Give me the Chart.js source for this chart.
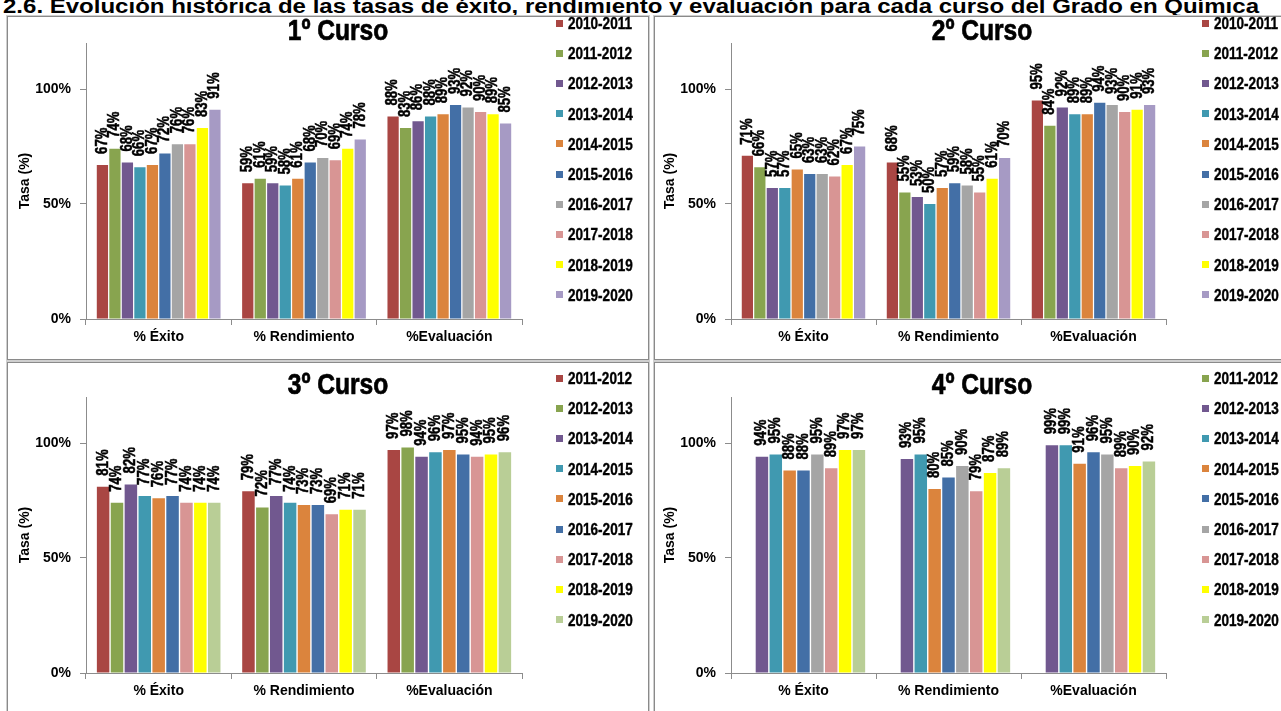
<!DOCTYPE html>
<html><head><meta charset="utf-8">
<script src="https://cdn.jsdelivr.net/npm/chart.js@4.4.1/dist/chart.umd.min.js"></script>
<style>
html,body{margin:0;padding:0;background:#fff;width:1281px;height:711px;overflow:hidden;position:relative;}
.panel{position:absolute;border:1px solid #8a8a8a;box-shadow:0 0 0 1px #cfcfcf;box-sizing:border-box;}
canvas{position:absolute;}
.ctitle{position:absolute;font-weight:bold;font-size:30px;font-family:'Liberation Sans',Arial,sans-serif;transform:translate(-50%,-50%) scaleX(0.82);white-space:nowrap;line-height:30px;color:#000;-webkit-text-stroke:0.7px #000;}
.lg{position:absolute;font-weight:bold;font-size:16.5px;font-family:'Liberation Sans',Arial,sans-serif;white-space:nowrap;line-height:16px;color:#000;transform-origin:0 50%;transform:scaleX(0.82);-webkit-text-stroke:0.4px #000;}
.sq{position:absolute;width:7px;height:7px;}
#heading{position:absolute;left:3px;top:-4px;font-weight:bold;font-size:20px;font-family:'Liberation Sans',Arial,sans-serif;line-height:20px;white-space:nowrap;transform-origin:0 0;color:#000;}
</style></head>
<body>
<div id="heading">2.6. Evolución histórica de las tasas de éxito, rendimiento y evaluación para cada curso del Grado en Química</div>
<div class="panel" style="left:7px;top:16px;width:642px;height:344px"></div>
<div class="panel" style="left:654px;top:16px;width:700px;height:344px"></div>
<div class="panel" style="left:7px;top:362px;width:642px;height:400px"></div>
<div class="panel" style="left:654px;top:362px;width:700px;height:400px"></div>
<canvas id="c1" width="639" height="341" style="left:8px;top:17px"></canvas>
<canvas id="c2" width="626" height="341" style="left:655px;top:17px"></canvas>
<canvas id="c3" width="639" height="348" style="left:8px;top:363px"></canvas>
<canvas id="c4" width="626" height="348" style="left:655px;top:363px"></canvas>
<script>
// ---- data ----
const categories = ['% Éxito', '% Rendimiento', '%Evaluación'];
const years10 = ['2010-2011','2011-2012','2012-2013','2013-2014','2014-2015','2015-2016','2016-2017','2017-2018','2018-2019','2019-2020'];
const years9 = ['2011-2012','2012-2013','2013-2014','2014-2015','2015-2016','2016-2017','2017-2018','2018-2019','2019-2020'];
const yTicks = [0, 50, 100];

const curso1Exito       = [67, 74, 68, 66, 67, 72, 76, 76, 83, 91];
const curso1Rendimiento = [59, 61, 59, 58, 61, 68, 70, 69, 74, 78];
const curso1Evaluacion  = [88, 83, 86, 88, 89, 93, 92, 90, 89, 85];

const curso2Exito       = [71, 66, 57, 57, 65, 63, 63, 62, 67, 75];
const curso2Rendimiento = [68, 55, 53, 50, 57, 59, 58, 55, 61, 70];
const curso2Evaluacion  = [95, 84, 92, 89, 89, 94, 93, 90, 91, 93];

const curso3Exito       = [81, 74, 82, 77, 76, 77, 74, 74, 74];
const curso3Rendimiento = [79, 72, 77, 74, 73, 73, 69, 71, 71];
const curso3Evaluacion  = [97, 98, 94, 96, 97, 95, 94, 95, 96];

const curso4Exito       = [null, 94, 95, 88, 88, 95, 89, 97, 97];
const curso4Rendimiento = [null, 93, 95, 80, 85, 90, 79, 87, 89];
const curso4Evaluacion  = [null, 99, 99, 91, 96, 95, 89, 90, 92];

// ---- styles ----
const RED='#A94643', GREEN='#88A44F', PURPLE='#71588F', TEAL='#4099B0', ORANGE='#DB843D',
      BLUE='#436FA6', GRAY='#A5A5A5', PINK='#D89594', YELLOW='#FFFF00', LAV='#A69AC4', LGREEN='#B9CE96';
const colors1 = [RED, GREEN, PURPLE, TEAL, ORANGE, BLUE, GRAY, PINK, YELLOW, LAV];
const colors3 = [RED, GREEN, PURPLE, TEAL, ORANGE, BLUE, PINK, YELLOW, LGREEN];
const colors4 = [GREEN, PURPLE, TEAL, ORANGE, BLUE, GRAY, PINK, YELLOW, LGREEN];
const FONT = "'Liberation Sans', Arial, sans-serif";
const NARROW_X = 0.82;

const valueLabels = {
  id: 'valueLabels',
  afterDatasetsDraw(chart) {
    const ctx = chart.ctx;
    ctx.save();
    ctx.font = 'bold 16px ' + FONT;
    ctx.fillStyle = '#000';
    ctx.strokeStyle = '#000';
    ctx.lineWidth = 0.5;
    ctx.textAlign = 'left';
    ctx.textBaseline = 'middle';
    chart.data.datasets.forEach((ds, i) => {
      const meta = chart.getDatasetMeta(i);
      meta.data.forEach((bar, j) => {
        const v = ds.data[j];
        if (v === null || v === undefined) return;
        ctx.save();
        ctx.translate(bar.x, bar.y - 11);
        ctx.rotate(-Math.PI / 2);
        ctx.scale(NARROW_X, 1);
        ctx.fillText(v + '%', 0, 0);
        ctx.strokeText(v + '%', 0, 0);
        ctx.restore();
      });
    });
    ctx.restore();
  }
};

function makeChart(id, years, colors, ex, re, ev, g) {
  const datasets = years.map((y, i) => ({
    label: y,
    data: [ex[i], re[i], ev[i]],
    backgroundColor: colors[i],
    borderWidth: 0,
    categoryPercentage: 0.86,
    barPercentage: 0.9
  }));
  const tickFont = { family: FONT, size: 14, weight: 'bold' };
  return new Chart(document.getElementById(id), {
    type: 'bar',
    data: { labels: categories, datasets },
    options: {
      responsive: false,
      animation: false,
      layout: { padding: { left: 0, top: g.top, right: g.w - g.right, bottom: 0 } },
      plugins: { legend: { display: false }, title: { display: false }, tooltip: { enabled: false } },
      scales: {
        x: {
          grid: { display: true, drawOnChartArea: false, tickLength: 6, color: '#8c8c8c', offset: true },
          border: { color: '#8c8c8c' },
          ticks: { color: '#000', font: tickFont, padding: 4, maxRotation: 0 },
          afterFit: s => { s.height = g.h - g.bottom; }
        },
        y: {
          min: 0, max: 120,
          ticks: { stepSize: 50, callback: v => v + '%', color: '#000', font: tickFont, padding: 9 },
          grid: { drawOnChartArea: false, tickLength: 6, color: '#8c8c8c' },
          border: { color: '#8c8c8c' },
          title: { display: true, text: 'Tasa (%)', color: '#000', font: { family: FONT, size: 14, weight: 'bold' }, padding: { top: g.titleX - 8.4, bottom: 0 } },
          afterBuildTicks: s => { s.ticks = yTicks.map(v => ({ value: v })); },
          afterFit: s => { s.width = g.left; }
        }
      }
    },
    plugins: [valueLabels]
  });
}

function makeLegend(x, y0, step, labels, colors) {
  labels.forEach((t, i) => {
    const y = y0 + i * step;
    const sq = document.createElement('div');
    sq.className = 'sq';
    sq.style.left = x + 'px';
    sq.style.top = (y - 3.5) + 'px';
    sq.style.background = colors[i];
    document.body.appendChild(sq);
    const tx = document.createElement('div');
    tx.className = 'lg';
    tx.style.left = (x + 12) + 'px';
    tx.style.top = (y - 8) + 'px';
    tx.textContent = t;
    document.body.appendChild(tx);
  });
}
function makeTitle(text, cx, cy) {
  const d = document.createElement('div');
  d.className = 'ctitle';
  d.style.left = cx + 'px';
  d.style.top = cy + 'px';
  d.textContent = text;
  document.body.appendChild(d);
}

const g1 = { w: 639, h: 341, left: 78, right: 514, top: 26, bottom: 302, titleX: 17 };
const g2 = { w: 626, h: 341, left: 76, right: 511, top: 26, bottom: 302, titleX: 15 };
const g3 = { w: 639, h: 348, left: 78, right: 514, top: 34, bottom: 310, titleX: 17 };
const g4 = { w: 626, h: 348, left: 76, right: 511, top: 34, bottom: 310, titleX: 15 };

makeChart('c1', years10, colors1, curso1Exito, curso1Rendimiento, curso1Evaluacion, g1);
makeChart('c2', years10, colors1, curso2Exito, curso2Rendimiento, curso2Evaluacion, g2);
makeChart('c3', years9, colors3, curso3Exito, curso3Rendimiento, curso3Evaluacion, g3);
makeChart('c4', years9, colors4, curso4Exito, curso4Rendimiento, curso4Evaluacion, g4);

makeTitle('1º Curso', 338, 30);
makeTitle('2º Curso', 982, 30);
makeTitle('3º Curso', 338, 384);
makeTitle('4º Curso', 982, 384);

makeLegend(556, 23, 30.2, years10, colors1);
makeLegend(1202, 23, 30.2, years10, colors1);
makeLegend(556, 378, 30.2, years9, colors3);
makeLegend(1202, 378, 30.2, years9, colors4);

const h = document.getElementById('heading');
const hw = h.getBoundingClientRect().width;
h.style.transform = 'scaleX(' + (1256 / hw) + ')';
</script>
</body></html>
